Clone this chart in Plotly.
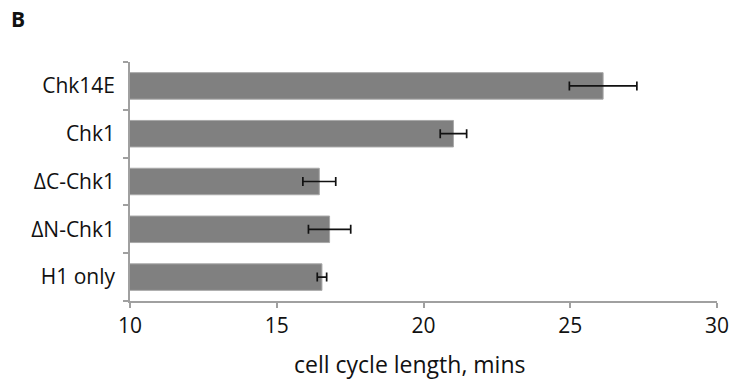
import plotly.graph_objects as go

categories = ["H1 only", "ΔN-Chk1", "ΔC-Chk1", "Chk1", "Chk14E"]
values = [16.54, 16.80, 16.45, 21.02, 26.12]
errors = [0.16, 0.72, 0.56, 0.45, 1.15]
x_ticks = [10, 15, 20, 25, 30]
x_title = "cell cycle length, mins"
panel_label = "B"

font_family = "Open Sans, Noto Sans, sans-serif"

W, H = 735, 381
L, R, T, B = 129.5, 17.7, 62, 80
pw, ph = W - L - R, H - T - B

fig = go.Figure()
fig.add_trace(go.Bar(
    y=categories,
    x=values,
    orientation="h",
    marker=dict(color="#808080", line=dict(color="#a8a8a8", width=1)),
    error_x=dict(type="data", array=errors, visible=True, color="#111111",
                 thickness=1.7, width=4.5),
    width=0.555,
))

fig.update_layout(
    width=W, height=H,
    margin=dict(l=L, r=R, t=T, b=B, autoexpand=False),
    paper_bgcolor="white", plot_bgcolor="white",
    font=dict(family=font_family, size=21, color="#111111"),
    showlegend=False,
    annotations=[
        dict(text="<b>" + panel_label + "</b>", x=(8 - L) / pw, y=1 + (T - 19) / ph,
             xref="paper", yref="paper", showarrow=False,
             font=dict(size=21, family=font_family, color="#111111"),
             xanchor="left", yanchor="middle"),
        dict(text=x_title, x=(409 - L) / pw, y=-(364 - (H - B)) / ph,
             xref="paper", yref="paper", showarrow=False,
             font=dict(size=23, family=font_family, color="#111111"),
             xanchor="center", yanchor="middle"),
    ],
)

fig.update_xaxes(
    range=[10, 30], tickvals=x_ticks, ticktext=[str(v) for v in x_ticks],
    showgrid=False, zeroline=False,
    showline=True, linecolor="#a0a0a0", linewidth=1.5,
    ticks="outside", ticklen=5, tickcolor="#a0a0a0", tickwidth=1.5,
    tickfont=dict(size=21),
    automargin=False,
)
fig.update_yaxes(
    showgrid=False, zeroline=False,
    showline=True, linecolor="#a0a0a0", linewidth=1.5,
    ticks="outside", ticklen=5, tickcolor="#a0a0a0", tickwidth=1.5,
    tickson="boundaries", ticklabelstandoff=9,
    tickfont=dict(size=21),
    range=[-0.5, 4.5],
    automargin=False,
)

fig.write_html("out.html", config={"displayModeBar": False},
               post_script="document.body.style.margin='0';")
